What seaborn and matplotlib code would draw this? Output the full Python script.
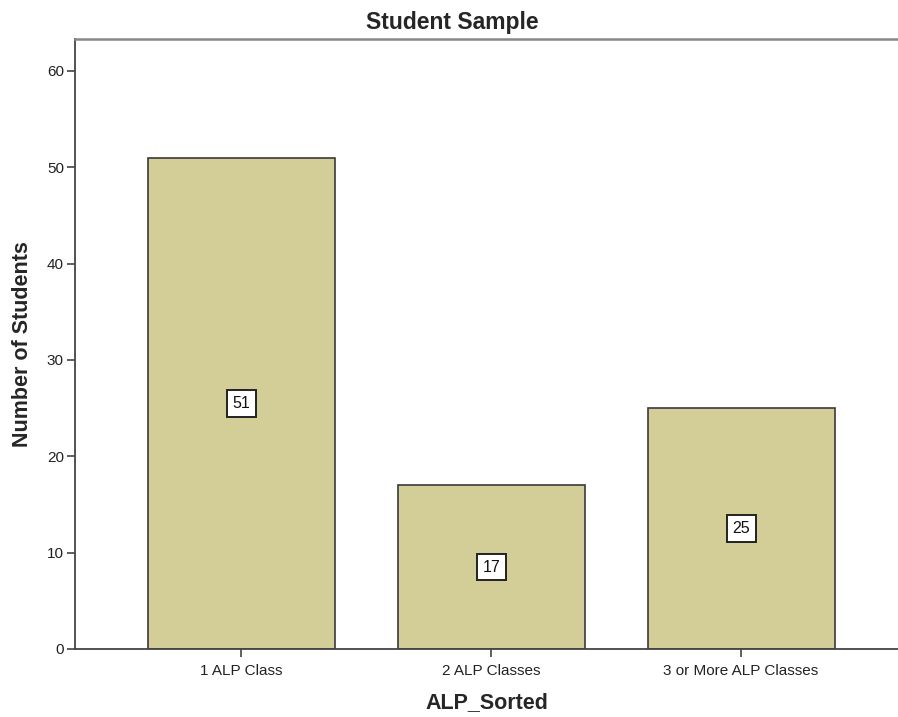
import matplotlib
matplotlib.use("Agg")
import matplotlib.pyplot as plt
import seaborn as sns
import pandas as pd

categories = ["1 ALP Class", "2 ALP Classes", "3 or More ALP Classes"]
counts = [51, 17, 25]
y_ticks = [0, 10, 20, 30, 40, 50, 60]

sns.set_style("white")
plt.rcParams["font.family"] = ["Liberation Sans", "DejaVu Sans"]

df = pd.DataFrame({"ALP_Sorted": categories, "Number of Students": counts})

fig = plt.figure(figsize=(8.98, 7.17), dpi=100)
ax = fig.add_axes([75 / 898, 68 / 717, 823 / 898, 610 / 717])

sns.barplot(data=df, x="ALP_Sorted", y="Number of Students", ax=ax,
            color="#D3CE98", saturation=1, width=0.748,
            edgecolor="#3a3a3a", linewidth=1.2)

ax.set_xlim(-0.666, 2.628)
ax.set_ylim(0, 63.3)
ax.set_yticks(y_ticks)

for spine in ["left", "bottom"]:
    ax.spines[spine].set_color("#444444")
    ax.spines[spine].set_linewidth(1.3)
ax.spines["top"].set_color("#888888")
ax.spines["top"].set_linewidth(1.8)
ax.spines["right"].set_visible(False)

ax.tick_params(axis="both", direction="out", length=6, width=1.2,
               color="#444444", labelsize=11, labelcolor="#222222", pad=2)
ax.tick_params(axis="x", pad=5)
ax.tick_params(axis="y", left=True)
ax.tick_params(axis="x", bottom=True)

ax.set_xlabel("ALP_Sorted", fontsize=15.5, fontweight="bold", labelpad=10)
ax.set_ylabel("Number of Students", fontsize=15.5, fontweight="bold", labelpad=10)

for i, v in enumerate(counts):
    ax.text(i, v / 2, str(v), ha="center", va="center", fontsize=11.5,
            color="#111111",
            bbox=dict(boxstyle="square,pad=0.36", facecolor="white",
                      edgecolor="#222222", linewidth=1.4))

fig.text(452 / 898, 1 - 23 / 717, "Student Sample", ha="center", va="center",
         fontsize=16.5, fontweight="bold")

fig.savefig("out.png", dpi=100)
